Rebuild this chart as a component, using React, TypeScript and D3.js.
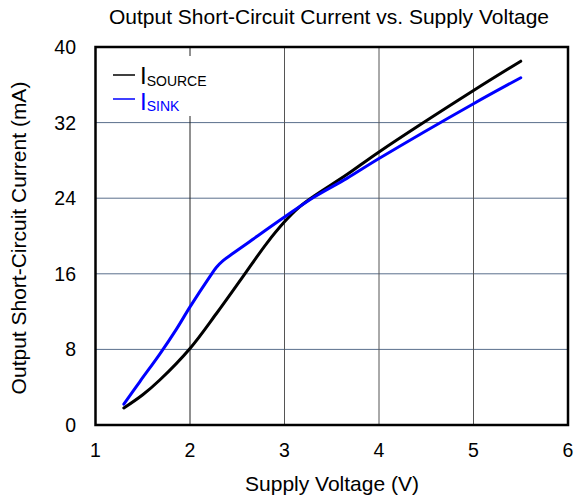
import React from "react";
import * as d3 from "d3";

const title = "Output Short-Circuit Current vs. Supply Voltage";
const xTitle = "Supply Voltage (V)";
const yTitle = "Output Short-Circuit Current (mA)";
const xTicks = [1, 2, 3, 4, 5, 6];
const yTicks = [0, 8, 16, 24, 32, 40];

const sourceV = [1.3, 1.5, 1.68, 2.0, 2.28, 2.56, 2.81, 3.0, 3.15, 3.31, 3.66, 4.0, 5.0, 5.5];
const sourceI = [1.8, 3.2, 4.76, 8.1, 11.8, 15.7, 19.2, 21.5, 23.0, 24.2, 26.5, 28.9, 35.4, 38.5];
const sinkV = [1.3, 1.47, 1.68, 1.86, 2.0, 2.21, 2.28, 2.35, 2.46, 2.63, 3.0, 3.31, 3.66, 4.0, 5.0, 5.5];
const sinkI = [2.2, 4.6, 7.5, 10.2, 12.5, 15.7, 16.7, 17.4, 18.2, 19.4, 22.0, 24.1, 26.1, 28.2, 34.0, 36.75];

const W = 575, H = 499;
const L = 95.5, R = 568, T = 47, B = 425;
const FONT = "'Liberation Sans', Arial, sans-serif";

export default function App() {
  const x = d3.scaleLinear().domain([1, 6]).range([L, R]);
  const y = d3.scaleLinear().domain([0, 40]).range([B, T]);
  const line = d3
    .line<[number, number]>()
    .x((d) => x(d[0]))
    .y((d) => y(d[1]))
    .curve(d3.curveCatmullRom.alpha(0.5));
  const src = sourceV.map((v, i) => [v, sourceI[i]] as [number, number]);
  const snk = sinkV.map((v, i) => [v, sinkI[i]] as [number, number]);

  return (
    <svg width={W} height={H} style={{ position: "absolute", left: 0, top: 0 }} fontFamily={FONT}>
      <rect x={0} y={0} width={W} height={H} fill="white" />
      {yTicks.slice(1, -1).map((t) => (
        <line key={"h" + t} x1={L} x2={R} y1={y(t)} y2={y(t)} stroke="#5a6f8c" strokeWidth={1} />
      ))}
      {xTicks.slice(1, -1).map((t) => (
        <line key={"v" + t} x1={x(t)} x2={x(t)} y1={T} y2={B} stroke={t === 2 ? "#222" : "#555"} strokeWidth={1} />
      ))}
      <rect x={102} y={56} width={100} height={60} fill="white" />
      <path d={line(src) || ""} fill="none" stroke="#000" strokeWidth={3} strokeLinecap="round" />
      <path d={line(snk) || ""} fill="none" stroke="#0000ff" strokeWidth={3} strokeLinecap="round" />
      <rect x={L} y={T} width={R - L} height={B - T} fill="none" stroke="#000" strokeWidth={2.5} />
      {xTicks.map((t) => (
        <text key={"xt" + t} x={x(t)} y={457} textAnchor="middle" fontSize={19.5} fill="#000">
          {t}
        </text>
      ))}
      {yTicks.map((t) => (
        <text key={"yt" + t} x={76} y={y(t) + 7} textAnchor="end" fontSize={19.5} fill="#000">
          {t}
        </text>
      ))}
      <text x={329} y={24} textAnchor="middle" fontSize={21} fill="#000">
        {title}
      </text>
      <text x={332} y={491} textAnchor="middle" fontSize={21} fill="#000">
        {xTitle}
      </text>
      <text transform={`translate(26,${238}) rotate(-90)`} textAnchor="middle" fontSize={21} fill="#000">
        {yTitle}
      </text>
      <line x1={113} x2={135} y1={75} y2={75} stroke="#000" strokeWidth={1.5} />
      <text x={140} y={84} fontSize={24} fill="#000">
        I<tspan fontSize={14} dy={1.5}>SOURCE</tspan>
      </text>
      <line x1={113} x2={135} y1={99} y2={99} stroke="#0000ff" strokeWidth={1.5} />
      <text x={140} y={109.5} fontSize={24} fill="#0000ff">
        I<tspan fontSize={14} dy={1}>SINK</tspan>
      </text>
    </svg>
  );
}
